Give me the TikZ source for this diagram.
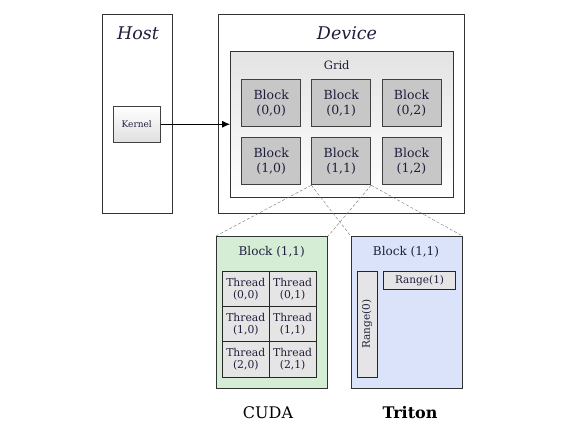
\documentclass[tikz,border=0pt]{standalone}
\usepackage{fontspec}
\setmainfont{DejaVu Serif}
\usetikzlibrary{arrows.meta}
\definecolor{txt}{RGB}{30,30,60}
\definecolor{cudafill}{RGB}{213,237,213}
\definecolor{tritonfill}{RGB}{218,227,250}
\begin{document}
\begin{tikzpicture}[x=1pt,y=-1pt,
  box/.style={draw=black!80, line width=0.8pt},
  blk/.style={draw=black!75, line width=0.8pt, fill=black!22, minimum width=59pt, minimum height=47pt, inner sep=0pt, align=center, font=\fontsize{12.5}{15}\selectfont, text=txt},
  thr/.style={draw=black!85, line width=0.8pt, fill=black!10, minimum width=46.8pt, minimum height=35.2pt, inner sep=0pt, align=center, font=\fontsize{10.8}{12.5}\selectfont, text=txt},
  conn/.style={densely dashed, draw=black!55, line width=0.4pt}]
\useasboundingbox (0,0) rectangle (567,438);
% Host
\node[box, minimum width=70.3pt, minimum height=198.3pt, anchor=north west, inner sep=0pt] (host) at (101.7,14.3) {};
\node[font=\fontsize{17.5}{20}\selectfont\itshape, text=txt] (hostl) at (138,33) {Host};
\node[draw=black!75, line width=0.8pt, top color=white, bottom color=black!12, minimum width=47.3pt, minimum height=35.7pt, inner sep=0pt, anchor=north west, font=\fontsize{9}{10}\selectfont, text=txt] (kernel) at (112.7,106) {Kernel};
% Device
\node[box, minimum width=245.7pt, minimum height=198.3pt, anchor=north west, inner sep=0pt] (dev) at (218.3,14.3) {};
\node[font=\fontsize{17.5}{20}\selectfont\itshape, text=txt] (devl) at (347,33) {Device};
\node[draw=black!80, line width=0.8pt, top color=black!11, bottom color=white, minimum width=222.7pt, minimum height=146pt, inner sep=0pt, anchor=north west] (grid) at (230,50.7) {};
\node[font=\fontsize{11.5}{13}\selectfont, text=txt] (gridl) at (336.7,65) {Grid};
\node[blk] (b00) at (271.2,103) {Block\\(0,0)};
\node[blk] (b01) at (341.2,103) {Block\\(0,1)};
\node[blk] (b02) at (411.5,103) {Block\\(0,2)};
\node[blk] (b10) at (271.2,161.3) {Block\\(1,0)};
\node[blk] (b11) at (341.2,161.3) {Block\\(1,1)};
\node[blk] (b12) at (411.5,161.3) {Block\\(1,2)};
\draw[-{Latex[length=8pt,width=7pt]}, line width=0.8pt] (kernel.east) -- (grid.west |- kernel.east);
% CUDA
\node[draw=black!80, line width=0.8pt, fill=cudafill, minimum width=111.3pt, minimum height=152.3pt, inner sep=0pt, anchor=north west] (cuda) at (216,236) {};
\node[font=\fontsize{12}{14}\selectfont, text=txt] (cudab) at (271.7,251.7) {Block (1,1)};
\node[thr, anchor=north west] (t00) at (222,271) {Thread\\(0,0)};
\node[thr, anchor=north west] (t01) at (268.8,271) {Thread\\(0,1)};
\node[thr, anchor=north west] (t10) at (222,306.2) {Thread\\(1,0)};
\node[thr, anchor=north west] (t11) at (268.8,306.2) {Thread\\(1,1)};
\node[thr, anchor=north west] (t20) at (222,341.4) {Thread\\(2,0)};
\node[thr, anchor=north west] (t21) at (268.8,341.4) {Thread\\(2,1)};
% Triton
\node[draw=black!80, line width=0.8pt, fill=tritonfill, minimum width=111pt, minimum height=152.3pt, inner sep=0pt, anchor=north west] (triton) at (350.7,236) {};
\node[font=\fontsize{12}{14}\selectfont, text=txt] (tritonb) at (406,251.7) {Block (1,1)};
\node[draw=black!85, line width=0.8pt, fill=black!10, minimum width=20pt, minimum height=105.7pt, inner sep=0pt, anchor=north west] (r0) at (356.7,271) {};
\node[rotate=90, font=\fontsize{10.5}{12}\selectfont, text=txt] (r0l) at (r0.center) {Range(0)};
\node[draw=black!85, line width=0.8pt, fill=black!10, minimum width=71.7pt, minimum height=18pt, inner sep=0pt, anchor=north west, font=\fontsize{10.5}{12}\selectfont, text=txt] (r1) at (383.3,271) {Range(1)};
% labels
\node[font=\fontsize{16}{18}\selectfont] (cudal) at (268,413) {CUDA};
\node[font=\fontsize{16}{18}\selectfont\bfseries] (tritonl) at (410,413) {Triton};
% connectors
\draw[conn] (b11.south west) -- (cuda.north west);
\draw[conn] (b11.south west) -- (triton.north west);
\draw[conn] (b11.south east) -- (cuda.north east);
\draw[conn] (b11.south east) -- (triton.north east);
\end{tikzpicture}
\end{document}
